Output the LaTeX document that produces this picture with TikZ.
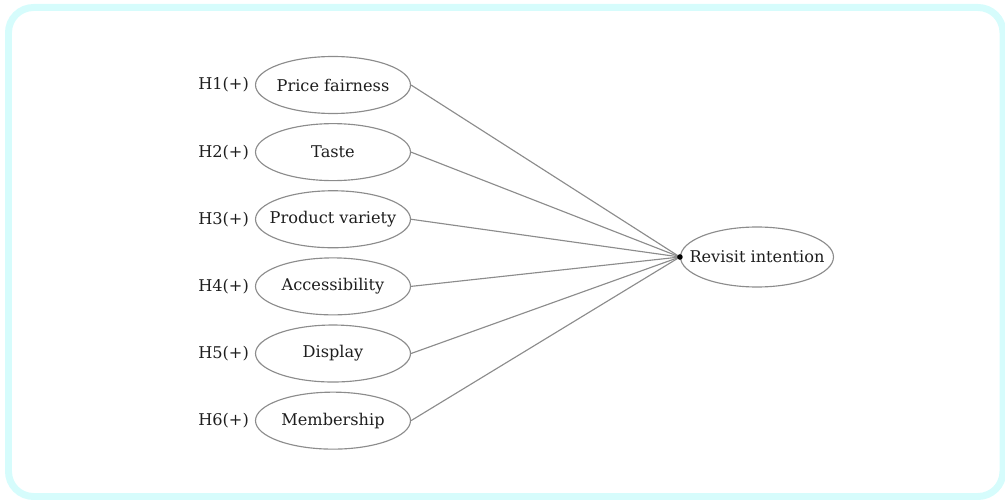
\documentclass[tikz,border=0pt]{standalone}
\usepackage{fontspec}
\setmainfont{DejaVu Serif}
\usetikzlibrary{positioning}
\usetikzlibrary{shapes.geometric}

\definecolor{framecyan}{RGB}{214,252,252}
\definecolor{edgegray}{RGB}{140,140,140}
\definecolor{textgray}{RGB}{30,30,30}
\newcommand{\ctext}[1]{\makebox[0pt]{#1}}

\begin{document}
\begin{tikzpicture}[x=0.02cm, y=-0.02cm,
		node distance = 0.18cm,
		every node/.style={font=\fontsize{9.2}{11}\selectfont, text=textgray},
		factor/.style={draw=edgegray, line width=0.65pt, ellipse, inner sep=0pt,
			minimum width=3.1cm, minimum height=1.14cm},
		hyp/.style={inner sep=1pt},
		link/.style={draw=edgegray, line width=0.65pt}]
		\useasboundingbox (0,0) rectangle (1005,500);
		\begin{scope}
			\clip (0,0) rectangle (1005,500);
			\draw [framecyan, line width=0.14cm, rounded corners=0.5cm]
				(8.5,7.5) rectangle (1003,496.5);
		\end{scope}
		\node [factor] (price) at (333,85) {\ctext{Price fairness}};
		\node [factor, below=of price] (taste) {\ctext{Taste}};
		\node [factor, below=of taste] (variety) {\ctext{Product variety}};
		\node [factor, below=of variety] (access) {\ctext{Accessibility}};
		\node [factor, below=of access] (display) {\ctext{Display}};
		\node [factor, below=of display] (member) {\ctext{Membership}};
		\node [factor, minimum width=3.06cm, minimum height=1.2cm] (revisit) at (757,257) {\ctext{Revisit intention}};
		\coordinate (hub) at (revisit.west);

		\node [hyp, left=0.08cm of price] (h1) {H1(+)};
		\node [hyp, left=0.08cm of taste] (h2) {H2(+)};
		\node [hyp, left=0.08cm of variety] (h3) {H3(+)};
		\node [hyp, left=0.08cm of access] (h4) {H4(+)};
		\node [hyp, left=0.08cm of display] (h5) {H5(+)};
		\node [hyp, left=0.08cm of member] (h6) {H6(+)};

		\path [link]
			(price.east) edge [] (hub)
			(taste.east) edge [] (hub)
			(variety.east) edge [] (hub)
			(access.east) edge [] (hub)
			(display.east) edge [] (hub)
			(member.east) edge [] (hub);
		\fill [black] (hub) circle (2.8);
\end{tikzpicture}
\end{document}
